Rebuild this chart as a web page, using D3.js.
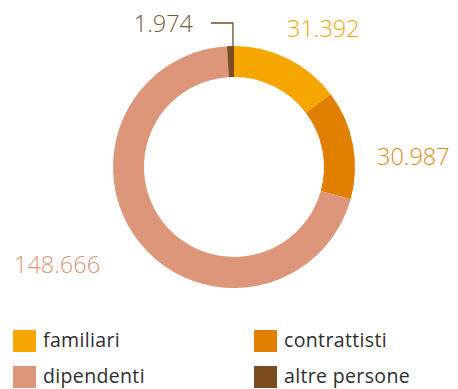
<!DOCTYPE html>
<html>
<head>
<meta charset="utf-8">
<script src="https://cdn.jsdelivr.net/npm/d3@7"></script>
<style>
  html, body { margin: 0; padding: 0; background: #fff; }
  svg { display: block; font-family: "Open Sans", "Noto Sans", sans-serif; }
</style>
</head>
<body>
<svg id="chart" width="458" height="389"></svg>
<script>
// Persone per tipologia
const categories = ["familiari", "contrattisti", "dipendenti", "altre persone"];
const values = [31392, 30987, 148666, 1974];
const colors = ["#F6A600", "#E07F00", "#DD967A", "#7B4C20"];
const labelColors = ["#F6A600", "#E08A1A", "#DD967A", "#7B5A3A"];

const width = 458, height = 389;
const cx = 234, cy = 167;
const outerR = 121, innerR = 90;

const fmt = d3.formatLocale({ decimal: ",", thousands: ".", grouping: [3], currency: ["", "€"] }).format(",d");

const svg = d3.select("#chart");

const pie = d3.pie().sort(null).value(d => d.value);
const arc = d3.arc().innerRadius(innerR).outerRadius(outerR);
const data = categories.map((c, i) => ({ name: c, value: values[i], color: colors[i], labelColor: labelColors[i] }));
const arcs = pie(data);

const g = svg.append("g").attr("transform", `translate(${cx},${cy})`);

g.selectAll("path.slice")
  .data(arcs)
  .join("path")
  .attr("class", "slice")
  .attr("d", arc)
  .attr("fill", d => d.data.color);

// value labels, anchored relative to the donut centre
const labelLayout = {
  "familiari":     { dx: 53,   dy: -130, anchor: "start" },
  "contrattisti":  { dx: 143,  dy: -2,   anchor: "start" },
  "dipendenti":    { dx: -220, dy: 106,  anchor: "start" },
  "altre persone": { dx: -41,  dy: -135, anchor: "end" }
};

g.selectAll("text.value")
  .data(arcs)
  .join("text")
  .attr("class", "value")
  .attr("x", d => labelLayout[d.data.name].dx)
  .attr("y", d => labelLayout[d.data.name].dy)
  .attr("text-anchor", d => labelLayout[d.data.name].anchor)
  .attr("font-size", 23.5)
  .attr("font-weight", 300)
  .attr("fill", d => d.data.labelColor)
  .text(d => fmt(d.data.value));

// leader line for the small slice
const small = arcs[3];
const a = small.endAngle - (small.endAngle - small.startAngle) * 0.15;
const lx = outerR * Math.sin(a);
const ly = -outerR * Math.cos(a);
g.append("path")
  .attr("d", `M${lx},${ly} V${-144} H${-23}`)
  .attr("fill", "none")
  .attr("stroke", small.data.color)
  .attr("stroke-width", 1.3);

// legend, two columns
const legend = svg.append("g").attr("class", "legend");
const items = legend.selectAll("g")
  .data(data)
  .join("g")
  .attr("transform", (d, i) => `translate(${13 + (i % 2) * 241},${330 + Math.floor(i / 2) * 36})`);

items.append("rect")
  .attr("width", 23)
  .attr("height", 22)
  .attr("fill", d => d.color);

items.append("text")
  .attr("x", 30)
  .attr("y", 17)
  .attr("font-size", 19.5)
  .attr("letter-spacing", 0.35)
  .attr("fill", "#2e2e2e")
  .text(d => d.name);
</script>
</body>
</html>
